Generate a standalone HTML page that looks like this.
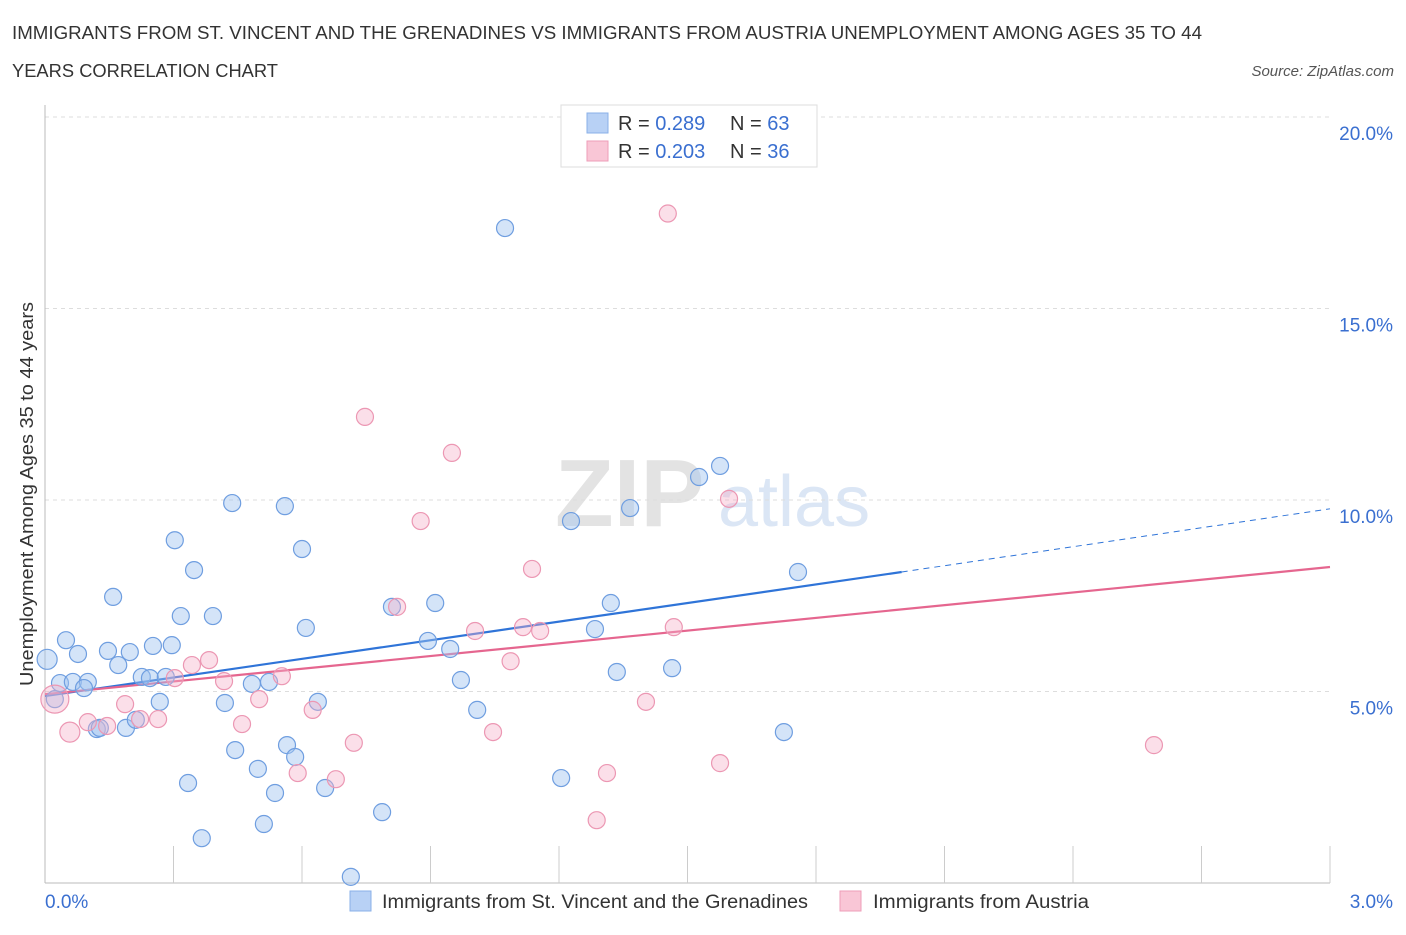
<!DOCTYPE html>
<html><head><meta charset="utf-8"><style>
body{margin:0;background:#fff;font-family:"Liberation Sans",sans-serif;}
svg text{font-family:"Liberation Sans",sans-serif;}
</style></head><body>
<svg id="chart" width="1406" height="930" xmlns="http://www.w3.org/2000/svg">
<text x="12" y="39" font-size="18" fill="#333" textLength="1190" lengthAdjust="spacingAndGlyphs">IMMIGRANTS FROM ST. VINCENT AND THE GRENADINES VS IMMIGRANTS FROM AUSTRIA UNEMPLOYMENT AMONG AGES 35 TO 44</text>
<text x="12" y="77" font-size="18" fill="#333" textLength="266" lengthAdjust="spacingAndGlyphs">YEARS CORRELATION CHART</text>
<text x="1394" y="76" font-size="15" fill="#555" text-anchor="end" font-style="italic">Source: ZipAtlas.com</text>
<text x="555" y="526" font-size="96" fill="#e3e3e3" font-family="Liberation Serif" font-weight="bold">ZIP</text>
<text x="718" y="526" font-size="72" fill="#dbe6f5">atlas</text>
<g id="grid"></g>
<g id="axes"></g>
<g id="lines"></g>
<g id="pts"></g>
<text transform="translate(33,494) rotate(-90)" font-size="18" fill="#333" text-anchor="middle" textLength="384" lengthAdjust="spacingAndGlyphs">Unemployment Among Ages 35 to 44 years</text>
<g>
<rect x="561" y="105" width="256" height="62" fill="#fff" stroke="#ddd"/>
<rect x="587" y="113" width="21" height="20" fill="#b8d1f5" stroke="#8ab0e8"/>
<rect x="587" y="141" width="21" height="20" fill="#f9c6d6" stroke="#ee9db8"/>
<text x="618" y="130" font-size="20" fill="#333">R = <tspan fill="#3a6fd0">0.289</tspan></text>
<text x="730" y="130" font-size="20" fill="#333">N = <tspan fill="#3a6fd0">63</tspan></text>
<text x="618" y="158" font-size="20" fill="#333">R = <tspan fill="#3a6fd0">0.203</tspan></text>
<text x="730" y="158" font-size="20" fill="#333">N = <tspan fill="#3a6fd0">36</tspan></text>
</g>
<g>
<rect x="350" y="891" width="21" height="20" fill="#b8d1f5" stroke="#8ab0e8"/>
<text x="382" y="908" font-size="19" fill="#333" textLength="426" lengthAdjust="spacingAndGlyphs">Immigrants from St. Vincent and the Grenadines</text>
<rect x="840" y="891" width="21" height="20" fill="#f9c6d6" stroke="#ee9db8"/>
<text x="873" y="908" font-size="19" fill="#333" textLength="216" lengthAdjust="spacingAndGlyphs">Immigrants from Austria</text>
</g>
</svg>
<script>
const yTicks=[5,10,15,20];
const yTickLabels=["5.0%","10.0%","15.0%","20.0%"];
const xTickLabels=["0.0%","3.0%"];
const blueX=[0.005,0.023,0.035,0.049,0.077,0.065,0.100,0.091,0.121,0.128,0.147,0.159,0.171,0.189,0.198,0.212,0.226,0.245,0.252,0.268,0.282,0.296,0.303,0.317,0.334,0.348,0.366,0.392,0.420,0.437,0.444,0.483,0.497,0.511,0.523,0.537,0.560,0.565,0.584,0.600,0.609,0.637,0.654,0.714,0.787,0.810,0.894,0.911,0.946,0.971,1.009,1.074,1.205,1.228,1.284,1.321,1.335,1.366,1.464,1.527,1.576,1.725,1.758];
const blueY=[5.84,4.80,5.22,6.34,5.98,5.25,5.25,5.09,4.02,4.05,6.06,7.47,5.69,4.05,6.03,4.26,5.38,5.35,6.19,4.73,5.38,6.21,8.95,6.97,2.61,8.17,1.17,6.97,4.70,9.92,3.47,5.20,2.98,1.54,5.25,2.35,9.84,3.60,3.29,8.72,6.66,4.73,2.48,0.16,1.85,7.21,6.32,7.31,6.11,5.30,4.52,17.10,2.74,9.45,6.63,7.31,5.51,9.79,5.61,10.60,10.89,3.94,8.12];
const pinkX=[0.023,0.058,0.100,0.145,0.187,0.222,0.264,0.303,0.343,0.383,0.418,0.460,0.500,0.553,0.590,0.625,0.679,0.721,0.747,0.822,0.877,0.950,1.004,1.046,1.087,1.137,1.156,1.116,1.288,1.312,1.403,1.454,1.468,1.576,1.597,2.589];
const pinkY=[4.80,3.94,4.20,4.10,4.67,4.28,4.28,5.35,5.69,5.82,5.27,4.15,4.80,5.40,2.87,4.52,2.71,3.66,12.17,7.21,9.45,11.23,6.58,3.94,5.79,8.20,6.58,6.68,1.64,2.87,4.73,17.48,6.68,3.13,10.03,3.60];
const blueLine=[4.88,8.12,9.77];
const pinkLine=[4.93,8.25];
const X0=45,X1=1330,Y0=883,PY=38.3;
const sx=v=>X0+(v/3)*(X1-X0), sy=v=>Y0-v*PY;
const NS='http://www.w3.org/2000/svg';
function mk(p,t,a){const e=document.createElementNS(NS,t);for(const k in a)e.setAttribute(k,a[k]);p.appendChild(e);return e;}
const grid=document.getElementById('grid'),axes=document.getElementById('axes'),lines=document.getElementById('lines'),pts=document.getElementById('pts');
yTicks.forEach((t,i)=>{
 const g=mk(grid,'line',{x1:X0,x2:1330,y1:sy(t),y2:sy(t),stroke:'#ddd','stroke-dasharray':'4,4'});
 
 
 const l=mk(axes,'text',{x:1393,y:sy(t)+23,'font-size':19,fill:'#3a6fd0','text-anchor':'end'});
 l.textContent=yTickLabels[i];
 
 
});
const ax=mk(axes,'line',{x1:X0,x2:X0,y1:105,y2:Y0,stroke:'#bbb'});


const bx=mk(axes,'line',{x1:X0,x2:1330,y1:Y0,y2:Y0,stroke:'#bbb'});


for(let i=1;i<=10;i++){const v=i*0.3;const t=mk(axes,'line',{x1:sx(v),x2:sx(v),y1:846,y2:Y0,stroke:'#ccc'});
 
 }
[[0,'start',45],[3,'end',1393]].forEach((d,i)=>{const t=mk(axes,'text',{x:d[2],y:908,'font-size':19,fill:'#3a6fd0','text-anchor':d[1]});t.textContent=xTickLabels[i];
 
 });
let e=mk(lines,'line',{x1:sx(0),y1:sy(blueLine[0]),x2:sx(2),y2:sy(blueLine[1]),stroke:'#2f74d8','stroke-width':2.2});


e=mk(lines,'line',{x1:sx(2),y1:sy(blueLine[1]),x2:sx(3),y2:sy(blueLine[2]),stroke:'#2f74d8','stroke-width':1,'stroke-dasharray':'6,5'});


e=mk(lines,'line',{x1:sx(0),y1:sy(pinkLine[0]),x2:sx(3),y2:sy(pinkLine[1]),stroke:'#e5668f','stroke-width':2.2});


blueX.forEach((x,i)=>{const c=mk(pts,'circle',{cx:sx(x),cy:sy(blueY[i]),r:i==0?10:8.5,fill:'rgba(160,195,240,0.45)',stroke:'#6f9ee0','stroke-width':1.2});
 
 });
pinkX.forEach((x,i)=>{const c=mk(pts,'circle',{cx:sx(x),cy:sy(pinkY[i]),r:i==0?14:(i==1?10:8.5),fill:'rgba(245,175,200,0.4)',stroke:'#ec97b3','stroke-width':1.2});
 
 });
</script>
</body></html>
